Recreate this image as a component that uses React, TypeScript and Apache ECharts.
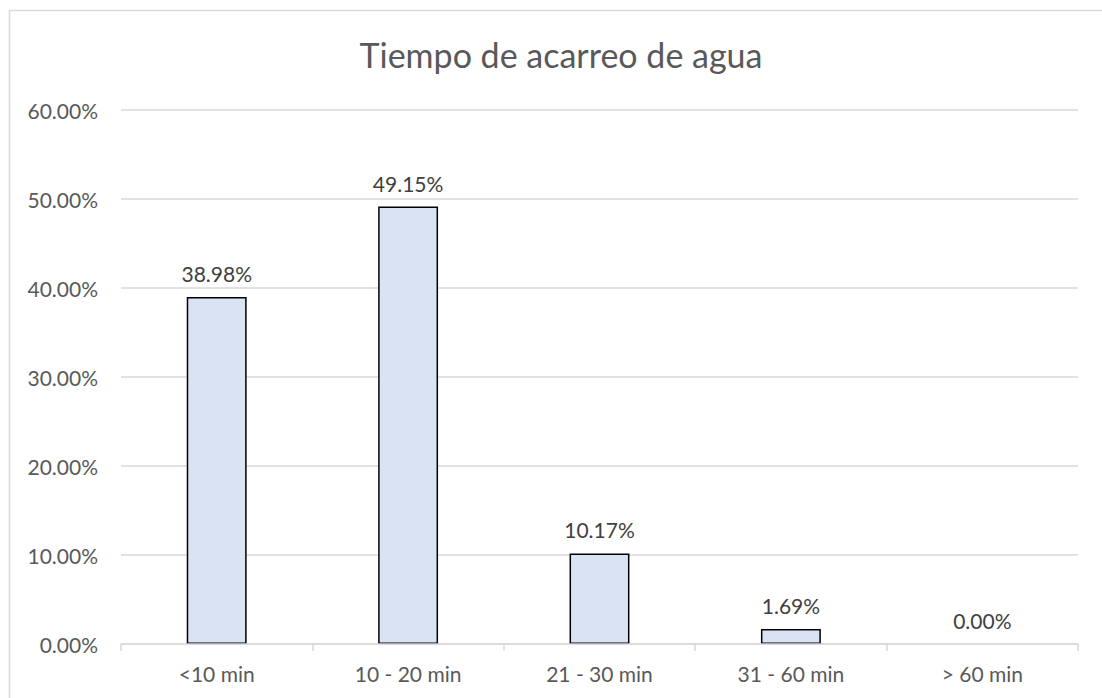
import React, { useEffect, useRef } from "react";
import * as echarts from "echarts";

const titleText = "Tiempo de acarreo de agua";
const categories = ["<10 min", "10 - 20 min", "21 - 30 min", "31 - 60 min", "> 60 min"];
const values = [38.98, 49.15, 10.17, 1.69, 0.0];
const yMax = 60;
const yInterval = 10;

export default function App() {
  const ref = useRef<HTMLDivElement>(null);
  useEffect(() => {
    if (!ref.current) return;
    const chart = echarts.init(ref.current, null, { renderer: "svg" });
    const font = "Lato, 'Liberation Sans', sans-serif";
    chart.setOption({
      animation: false,
      backgroundColor: "#ffffff",
      textStyle: { fontFamily: font },
      title: {
        text: titleText,
        left: 556,
        textAlign: "center",
        top: 32,
        textStyle: { fontFamily: font, fontSize: 34, fontWeight: "normal", color: "#595959" },
      },
      graphic: [
        {
          type: "rect",
          shape: { x: 9.5, y: 10.5, width: 1200, height: 800 },
          style: { fill: "none", stroke: "#d9d9d9", lineWidth: 1.5 },
          silent: true,
        },
      ],
      grid: { left: 121, right: 24, top: 110, bottom: 54 },
      xAxis: {
        type: "category",
        data: categories,
        z: 5,
        axisLine: { lineStyle: { color: "#d9d9d9", width: 1.5 } },
        axisTick: { show: true, length: 7, lineStyle: { color: "#d9d9d9", width: 1.5 } },
        axisLabel: { color: "#595959", fontSize: 21, fontFamily: font, margin: 19 },
      },
      yAxis: {
        type: "value",
        min: 0,
        max: yMax,
        interval: yInterval,
        axisLine: { show: false },
        axisTick: { show: false },
        splitLine: { lineStyle: { color: "#d9d9d9", width: 1.5 } },
        axisLabel: {
          color: "#595959",
          fontSize: 21,
          fontFamily: font,
          margin: 23,
          formatter: (v: number) => v.toFixed(2) + "%",
        },
      },
      series: [
        {
          type: "bar",
          data: values.map((v) => ({
            value: v,
            itemStyle: v === 0 ? { borderWidth: 0 } : undefined,
          })),
          barWidth: "31.3%",
          itemStyle: { color: "#dae3f3", borderColor: "#000000", borderWidth: 1.5 },
          label: {
            show: true,
            position: "top",
            distance: 13,
            color: "#404040",
            fontSize: 21,
            fontFamily: font,
            formatter: (p: any) => Number(p.value).toFixed(2) + "%",
          },
        },
      ],
    });
    return () => chart.dispose();
  }, []);
  return (
    <div
      ref={ref}
      style={{ position: "fixed", left: 0, top: 0, width: 1102, height: 698 }}
    />
  );
}
